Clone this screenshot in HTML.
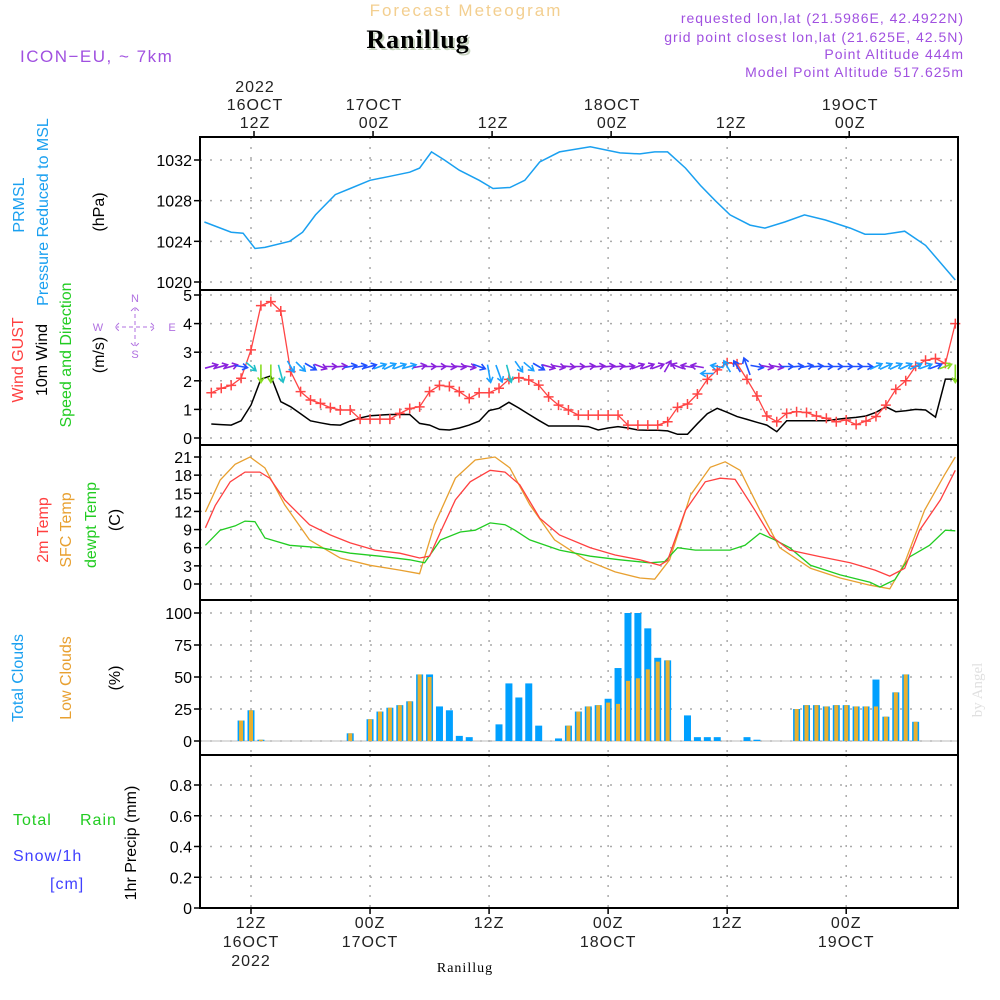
<!DOCTYPE html>
<html><head><meta charset="utf-8"><style>
body{margin:0;background:#fff}
svg{display:block;font-family:"Liberation Sans",sans-serif}
</style></head><body>
<svg id="c" width="1000" height="1000" viewBox="0 0 1000 1000"></svg>
<script>
// ---------- data ----------
const hours = []; for (let h=-4; h<=71; h++) hours.push(h);
const presTimes = [-4.7,-2,-0.8,0.4,1.4,3.9,5.2,6.5,8.5,10,12,14,16,17,18.2,19.5,21,23,24.4,26.1,27.6,29.1,31.1,34.2,37.2,39.2,40.7,42,43.8,45.3,46.8,48.3,50.3,51.8,53.8,55.8,57.9,60.4,61.9,63.9,65.9,68,71];
const presVals = [1025.9,1024.9,1024.8,1023.3,1023.4,1024,1024.9,1026.6,1028.6,1029.2,1030,1030.4,1030.8,1031.2,1032.8,1032,1031,1030,1029.2,1029.3,1030,1031.8,1032.8,1033.3,1032.7,1032.6,1032.8,1032.8,1031.2,1029.5,1028,1026.6,1025.6,1025.3,1025.9,1026.6,1026.1,1025.3,1024.7,1024.7,1025,1023.6,1020.2];
const wind10 = [0.49,0.47,0.45,0.6,1.15,2.06,2.17,1.27,1.09,0.85,0.6,0.53,0.47,0.45,0.59,0.7,0.78,0.8,0.82,0.82,0.82,0.51,0.45,0.3,0.28,0.35,0.45,0.59,0.96,1.04,1.25,1.05,0.83,0.62,0.42,0.42,0.42,0.42,0.4,0.28,0.35,0.4,0.35,0.28,0.27,0.27,0.25,0.13,0.13,0.5,0.85,1.04,0.9,0.75,0.65,0.55,0.45,0.22,0.6,0.6,0.6,0.6,0.6,0.65,0.69,0.72,0.77,0.9,1.09,0.92,0.95,1.0,0.98,0.73,2.06,2.06];
const gust = [1.58,1.74,1.84,2.09,3.08,4.63,4.77,4.44,2.32,1.62,1.33,1.21,1.06,0.98,0.98,0.66,0.66,0.66,0.66,0.86,1.03,1.09,1.62,1.84,1.8,1.62,1.38,1.58,1.58,1.74,2.05,2.11,2.03,1.85,1.44,1.15,0.98,0.8,0.8,0.8,0.8,0.8,0.45,0.45,0.45,0.45,0.57,1.07,1.19,1.54,2.05,2.38,2.63,2.59,2.05,1.47,0.77,0.57,0.86,0.92,0.89,0.77,0.69,0.57,0.63,0.47,0.59,0.75,1.15,1.7,2.0,2.51,2.72,2.78,2.61,4.0];
const windDir = [-15,-15,-15,10,40,90,90,75,60,45,30,20,0,-5,-10,-10,-15,-20,-25,-20,-15,-10,0,0,5,5,10,20,80,70,75,55,40,30,15,10,5,0,-5,-5,-5,-5,-5,-20,-20,-20,-60,-160,-170,-170,180,-170,-120,-120,-110,10,10,10,0,-5,-10,-5,0,0,0,0,0,-25,-25,-25,-25,-25,-20,-20,-20,90];
const t2Times = [-4.6,-3.6,-2.1,-0.6,0.9,1.9,3.4,5.9,8.0,10.0,12.5,15.0,17.0,18.0,19.1,20.6,22.1,24.1,25.6,27.1,29.1,31.1,34.2,36.7,39.2,41.2,42.0,43.8,45.8,47.3,48.8,50.8,52.3,54.3,57.4,60.4,62.9,64.4,65.9,67.4,69.5,71.0];
const t2Vals = [9.3,13,16.9,18.5,18.5,17.5,13.9,9.8,8.1,6.8,5.6,5.1,4.3,4.6,8.6,13.9,16.9,18.8,18.5,16.4,10.9,8.1,6,4.8,4,3.1,3.9,12.2,16.9,17.5,17.3,12.2,8.1,5.6,4.5,3.5,2.3,1.3,2.6,8.9,13.9,18.8];
const sfcTimes = [-4.6,-3.1,-1.6,-0.1,1.4,3.4,5.9,9.0,12.0,15.0,17.0,18.5,20.6,22.6,24.6,26.1,28.1,30.6,33.7,36.7,39.2,40.7,42.2,44.3,46.3,47.8,49.3,51.3,53.3,56.4,59.4,62.4,64.4,65.9,67.9,69.9,71.0];
const sfcVals = [11.9,17.2,19.8,21,19.2,13.1,7.3,4.3,3.1,2.3,1.7,9.8,17.5,20.5,21,19.2,13.1,7.3,4,2,1,0.8,4,14.7,19.3,20.2,18.8,12.2,6,2.6,1,-0.2,-0.8,3.5,12.2,18,21];
const dewTimes = [-4.6,-3.1,-1.6,-0.6,0.4,1.4,3.9,7.0,10.0,13.0,16.0,17.5,19.1,21.1,22.6,24.1,25.6,26.6,28.1,31.1,34.2,37.2,40.2,41.7,43.0,44.8,46.3,48.3,49.8,51.3,52.8,54.3,56.4,59.4,62.4,63.4,64.9,66.4,68.4,70.0,71.0];
const dewVals = [6.4,8.9,9.6,10.4,10.3,7.6,6.4,6,5.1,4.6,4,3.5,7.3,8.6,8.9,10.1,9.8,8.9,7.3,5.6,4.6,4,3.5,3.7,6,5.6,5.6,5.6,6.4,8.4,7.3,6,3.1,1.5,0.3,-0.5,0.7,4.5,6.4,8.9,8.8];
const cloudTotal = [0,0,0,16,24,1,0,0,0,0,0,0,0,0,6,0,17,23,26,28,31,52,52,27,24,4,3,0,0,13,45,34,45,12,0,2,12,23,27,28,33,57,100,100,88,65,63,0,20,3,3,3,0,0,3,1,0,0,0,25,28,28,27,28,28,27,27,48,19,38,52,15,0,0,0,0];
const cloudLow   = [0,0,0,16,24,1,0,0,0,0,0,0,0,0,6,0,17,23,26,28,31,52,50,0,0,0,0,0,0,0,0,0,0,0,0,0,12,23,27,28,30,29,47,49,56,62,63,0,0,0,0,0,0,0,0,0,0,0,0,25,28,28,27,28,28,27,27,27,19,38,52,15,0,0,0,0];
const precip = hours.map(()=>0);
const presTicks=[1020,1024,1028,1032], windTicks=[0,1,2,3,4,5], tempTicks=[0,3,6,9,12,15,18,21], cloudTicks=[0,25,50,75,100], precTicks=[0,0.2,0.4,0.6,0.8];
const gridHours=[0,12,24,36,48,60];
// ---------- helpers ----------
const NS="http://www.w3.org/2000/svg", svg=document.getElementById('c');
function el(tag,attrs,parent,text){const e=document.createElementNS(NS,tag);for(const k in attrs)e.setAttribute(k,attrs[k]);if(text!==undefined)e.textContent=text;(parent||svg).appendChild(e);return e;}
const X0=200,X1=958;
const xs=h=>251+h*9.92;
function lin(v0,y0,v1,y1){return v=>y0+(v-v0)*(y1-y0)/(v1-v0);}
const panels=[
 {name:'pressure',top:137,bot:290,y:lin(1020,282,1032,160),ticks:presTicks,fmt:v=>v},
 {name:'wind',top:290,bot:445,y:lin(0,438,5,295),ticks:windTicks,fmt:v=>v},
 {name:'temp',top:445,bot:600,y:lin(0,584,21,457),ticks:tempTicks,fmt:v=>v},
 {name:'clouds',top:600,bot:755,y:lin(0,741,100,613),ticks:cloudTicks,fmt:v=>v},
 {name:'precip',top:755,bot:908,y:lin(0,908,0.8,785),ticks:precTicks,fmt:v=>v===0?'0':v.toFixed(1)}
];
panels.forEach(p=>{
 const g=el('g',{});
 
 
 p.ticks.forEach(t=>{
  const y=p.y(t);
  const gl=el('line',{x1:X0,x2:X1,y1:y,y2:y,stroke:'#aaa','stroke-width':1.5,'stroke-dasharray':'2 8'},g);
  
  
  el('line',{x1:X0-6,x2:X0,y1:y,y2:y,stroke:'#000','stroke-width':1.5},g);
  const tl=el('text',{x:X0-8,y:y+6,'text-anchor':'end','font-size':16,fill:'#000'},g,p.fmt(t));
  
  
 });
 gridHours.forEach(h=>{
  const vl=el('line',{x1:xs(h),x2:xs(h),y1:p.top,y2:p.bot,stroke:'#aaa','stroke-width':1.5,'stroke-dasharray':'2 8'},g);
  
  
 });
 p.g=g;
});
function path(times,vals,yf,attrs,name){
 const d=times.map((t,i)=>(i?'L':'M')+xs(t).toFixed(1)+' '+yf(vals[i]).toFixed(1)).join(' ');
 const e=el('path',Object.assign({d,fill:'none'},attrs));
 
 
 return e;
}
const P=panels;
path(presTimes,presVals,P[0].y,{stroke:'#1aa0f0','stroke-width':1.5},'pressure-line');
// wind
path(hours,wind10,P[1].y,{stroke:'#000','stroke-width':1.5},'wind-10m-line');
path(hours,gust,P[1].y,{stroke:'#ff4545','stroke-width':1.3},'wind-gust-line');
hours.forEach((h,i)=>{
 const x=xs(h),y=P[1].y(gust[i]);
 const m=el('path',{d:`M${x-5} ${y}H${x+5}M${x} ${y-5}V${y+5}`,stroke:'#ff4545','stroke-width':1.5});
 
 
});
hours.forEach((h,i)=>{
 const s=wind10[i];
 const col=s>=1.8?'#88dd22':s>=1.1?'#20c0c8':s>=0.8?'#1aa0ff':s>=0.55?'#2050ff':'#8a22dd';
 const a=windDir[i]*Math.PI/180, L=Math.abs(Math.sin(a))>0.9?18:13;
 const cx=xs(h), cy=P[1].y(2.5)+(windDir[i]>60?7:0);
 const x1=cx-Math.cos(a)*L/2,y1=cy-Math.sin(a)*L/2,x2=cx+Math.cos(a)*L/2,y2=cy+Math.sin(a)*L/2;
 const hl=6,b1=a+Math.PI*0.82,b2=a-Math.PI*0.82;
 const ar=el('path',{d:`M${x1} ${y1}L${x2} ${y2}M${x2+Math.cos(b1)*hl} ${y2+Math.sin(b1)*hl}L${x2} ${y2}L${x2+Math.cos(b2)*hl} ${y2+Math.sin(b2)*hl}`,stroke:col,'stroke-width':1.6,fill:'none'});
 
 
});
// temps
path(sfcTimes,sfcVals,P[2].y,{stroke:'#e8a030','stroke-width':1.3},'sfc-temp-line');
path(dewTimes,dewVals,P[2].y,{stroke:'#22cc22','stroke-width':1.3},'dewpoint-line');
path(t2Times,t2Vals,P[2].y,{stroke:'#ff4040','stroke-width':1.3},'temp-2m-line');
// clouds
const cy0=P[3].y(0);
el('line',{x1:X0,x2:X1,y1:cy0,y2:cy0,stroke:'#bbb','stroke-width':1});
hours.forEach((h,i)=>{
 const x=xs(h);
 if(cloudTotal[i]>0){const b=el('rect',{x:x-3.5,width:7,y:P[3].y(cloudTotal[i]),height:cy0-P[3].y(cloudTotal[i]),fill:'#00a0ff'});
  
  }
 if(cloudLow[i]>0){const b=el('rect',{x:x-2,width:4,y:P[3].y(cloudLow[i]),height:cy0-P[3].y(cloudLow[i]),fill:'#e8b030'});
  
  }
 if(precip[i]>0){const b=el('rect',{x:x-3,width:6,y:P[4].y(precip[i]),height:908-P[4].y(precip[i]),fill:'#22cc22'});
  
  }
});
// frames
panels.forEach(p=>{el('rect',{x:X0,y:p.top,width:X1-X0,height:p.bot-p.top,fill:'none',stroke:'#000','stroke-width':2});});
// time tick labels
const topLbl=[[0,['2022','16OCT','12Z']],[12,['17OCT','00Z']],[24,['12Z']],[36,['18OCT','00Z']],[48,['12Z']],[60,['19OCT','00Z']]];
topLbl.forEach(([h,ls])=>{
 el('line',{x1:xs(h)+3,x2:xs(h)+3,y1:131,y2:137,stroke:'#000','stroke-width':1.5});
 ls.forEach((s,j)=>{const t=el('text',{x:xs(h)+4,y:128-(ls.length-1-j)*18,'text-anchor':'middle','font-size':16,fill:'#222','letter-spacing':1},undefined,s);
  
  });
});
const botLbl=[[0,['12Z','16OCT','2022']],[12,['00Z','17OCT']],[24,['12Z']],[36,['00Z','18OCT']],[48,['12Z']],[60,['00Z','19OCT']]];
botLbl.forEach(([h,ls])=>{
 el('line',{x1:xs(h),x2:xs(h),y1:908,y2:914,stroke:'#000','stroke-width':1.5});
 ls.forEach((s,j)=>{const t=el('text',{x:xs(h),y:928+j*19,'text-anchor':'middle','font-size':16,fill:'#222','letter-spacing':1},undefined,s);
  
  });
});
</script>
<svg width="1000" height="1000" style="position:absolute;left:0;top:0">
 <g font-family="Liberation Sans, sans-serif">
 <text x="466" y="16" text-anchor="middle" font-size="17" fill="#f3cf90" letter-spacing="2">Forecast Meteogram</text>
 <text x="420" y="50" text-anchor="middle" font-size="26" font-weight="bold" font-family="Liberation Serif, serif" fill="#c8d4c0" letter-spacing="1">Ranillug</text>
 <text x="418" y="48" text-anchor="middle" font-size="26" font-weight="bold" font-family="Liberation Serif, serif" fill="#000" letter-spacing="1">Ranillug</text>
 <text x="20" y="62" font-size="17" fill="#a050e0" letter-spacing="1.5">ICON−EU, ~ 7km</text>
 <g font-size="14" fill="#a050e0" text-anchor="end" letter-spacing="1">
  <text x="964" y="23">requested lon,lat (21.5986E, 42.4922N)</text>
  <text x="964" y="42">grid point closest lon,lat (21.625E, 42.5N)</text>
  <text x="964" y="59">Point Altitude 444m</text>
  <text x="964" y="77">Model Point Altitude 517.625m</text>
 </g>
 <g font-size="16">
  <text transform="translate(24,205) rotate(-90)" text-anchor="middle" fill="#1aa0f0">PRMSL</text>
  <text transform="translate(48,212) rotate(-90)" text-anchor="middle" fill="#1aa0f0">Pressure Reduced to MSL</text>
  <text transform="translate(104,212) rotate(-90)" text-anchor="middle" fill="#000">(hPa)</text>
  <text transform="translate(23,360) rotate(-90)" text-anchor="middle" fill="#ff4040">Wind GUST</text>
  <text transform="translate(47,360) rotate(-90)" text-anchor="middle" fill="#000">10m Wind</text>
  <text transform="translate(71,355) rotate(-90)" text-anchor="middle" fill="#22cc22">Speed and Direction</text>
  <text transform="translate(104,355) rotate(-90)" text-anchor="middle" fill="#000">(m/s)</text>
  <text transform="translate(48,530) rotate(-90)" text-anchor="middle" fill="#ff4040">2m Temp</text>
  <text transform="translate(71,530) rotate(-90)" text-anchor="middle" fill="#e8a030">SFC Temp</text>
  <text transform="translate(96,525) rotate(-90)" text-anchor="middle" fill="#22cc22">dewpt Temp</text>
  <text transform="translate(120,520) rotate(-90)" text-anchor="middle" fill="#000">(C)</text>
  <text transform="translate(23,678) rotate(-90)" text-anchor="middle" fill="#1aa0f0">Total Clouds</text>
  <text transform="translate(71,678) rotate(-90)" text-anchor="middle" fill="#e8a030">Low Clouds</text>
  <text transform="translate(120,678) rotate(-90)" text-anchor="middle" fill="#000">(%)</text>
  <text x="13" y="825" fill="#22cc22" letter-spacing="1">Total</text>
  <text x="80" y="825" fill="#22cc22" letter-spacing="1">Rain</text>
  <text x="13" y="861" fill="#4040ff" letter-spacing="1">Snow/1h</text>
  <text x="50" y="889" fill="#4040ff" letter-spacing="1">[cm]</text>
  <text transform="translate(136,843) rotate(-90)" text-anchor="middle" fill="#000">1hr Precip (mm)</text>
 </g>
 <g fill="none" stroke="#b070e0" stroke-width="1">
  <path d="M115 327H155M135 307V347M119 323L115 327L119 331M151 323L155 327L151 331M131 311L135 307L139 311M131 343L135 347L139 343" stroke-dasharray="4 3"/>
 </g>
 <g font-size="11" fill="#b070e0" text-anchor="middle">
  <text x="98" y="331">W</text><text x="172" y="331">E</text>
  <text x="135" y="302">N</text><text x="135" y="358">S</text>
 </g>
 <text x="465" y="972" text-anchor="middle" font-size="14" font-family="Liberation Serif, serif" fill="#000" letter-spacing="1">Ranillug</text>
 <text transform="translate(982,690) rotate(-90)" text-anchor="middle" font-size="15" font-family="Liberation Serif, serif" fill="#e0e0e0">by Angel</text>
 </g>
</svg>
</body></html>
